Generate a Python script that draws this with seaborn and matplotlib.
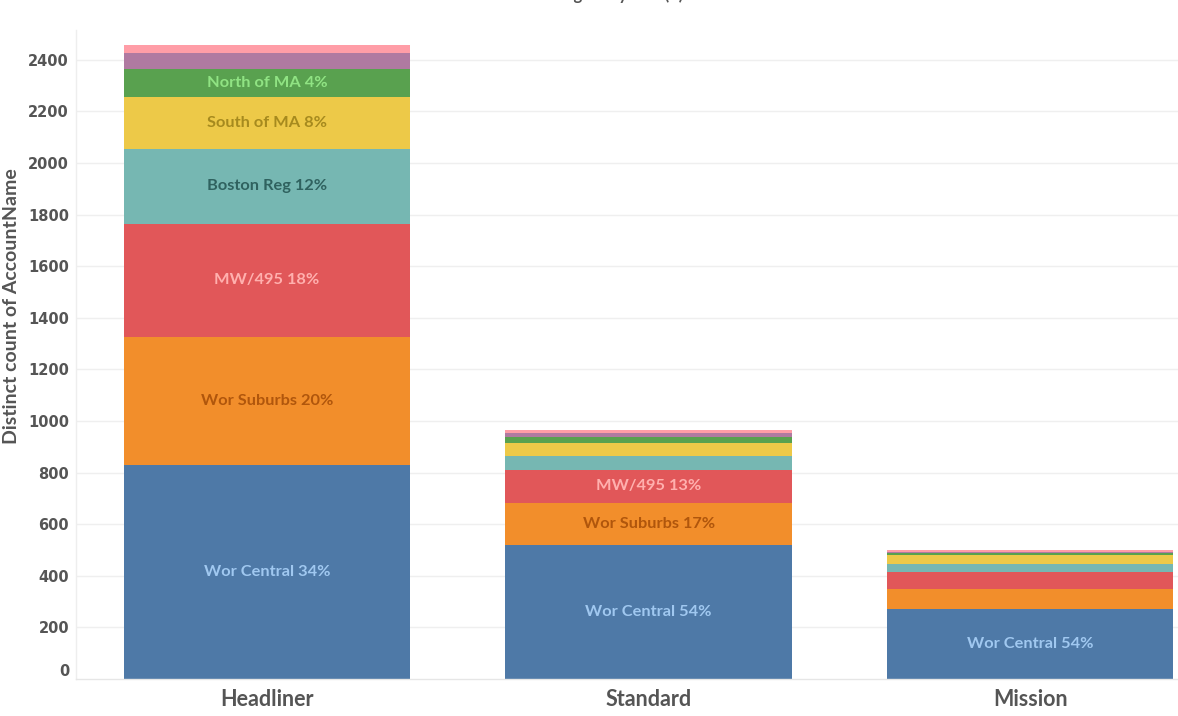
import numpy as np
import pandas as pd
import matplotlib
matplotlib.use("Agg")
import matplotlib.pyplot as plt
import seaborn as sns

tiers = ["Headliner", "Standard", "Mission"]
regions = ["Wor Central", "Wor Suburbs", "MW/495", "Boston Reg",
           "South of MA", "North of MA", "Western MA", "Out of State"]
headliner = [829, 497, 438, 290, 202, 108, 62, 31]
standard = [520, 163, 126, 55, 50, 25, 15, 11]
mission = [272, 78, 66, 31, 34, 8, 5, 7]
yticks = [0, 200, 400, 600, 800, 1000, 1200, 1400, 1600, 1800, 2000, 2200, 2400]

bar_colors = ["#4e79a7", "#f28e2b", "#e15759", "#76b7b2",
              "#edc948", "#59a14f", "#b07aa1", "#ff9da7"]
label_colors = ["#a0c8f0", "#b0560c", "#ffb0ae", "#2f625f",
                "#a68a1e", "#90e383", "#ffffff", "#ffffff"]

values = {"Headliner": headliner, "Standard": standard, "Mission": mission}
rows = []
for t in tiers:
    for r, v in zip(regions, values[t]):
        rows.append({"tier": t, "region": r, "count": v})
df = pd.DataFrame(rows)
df["tier"] = pd.Categorical(df["tier"], categories=tiers, ordered=True)

sns.set_theme(style="white")
plt.rcParams["font.family"] = ["DejaVu Sans"]

fig = plt.figure(figsize=(11.78, 7.16), dpi=100)
ax = fig.add_axes([76 / 1178, 37 / 716, (1178 - 76) / 1178, (679 - 30) / 716])

# gridlines behind the bars
for t in yticks[1:]:
    ax.axhline(t, color="#efefef", lw=1, zorder=0)

# stacked bars via seaborn
sns.histplot(data=df, x="tier", weights="count", hue="region",
             hue_order=regions[::-1], palette=dict(zip(regions, bar_colors)),
             multiple="stack", discrete=True, shrink=0.75, alpha=1,
             linewidth=0, legend=False, ax=ax, zorder=2)

# segment labels
for i, t in enumerate(tiers):
    vals = values[t]
    total = sum(vals)
    bottom = 0
    for r, v, lc in zip(regions, vals, label_colors):
        if v >= 90:
            ax.text(i, bottom + v / 2, f"{r} {round(100 * v / total)}%",
                    ha="center", va="center", color=lc, fontsize=11.8,
                    fontweight="bold", family="Lato", zorder=5)
        bottom += v

ax.set_xlim(-0.5, 2.387)
ax.set_ylim(0, 2515)
ax.set_yticks(yticks)
ax.set_yticklabels([str(v) for v in yticks])
ax.set_xticks(range(len(tiers)))
ax.set_xticklabels(tiers)
for lab in ax.get_yticklabels():
    lab.set_fontweight("bold")
    lab.set_fontsize(10.5)
    lab.set_color("#555555")
ax.get_yticklabels()[0].set_va("bottom")
for lab in ax.get_xticklabels():
    lab.set_family("Lato")
    lab.set_fontweight("bold")
    lab.set_fontsize(15.5)
    lab.set_color("#555555")
ax.tick_params(axis="y", length=0, pad=5)
ax.tick_params(axis="x", length=0, pad=7)

ax.set_xlabel("")
ax.set_ylabel("Distinct count of AccountName", family="Lato", fontweight="bold",
              fontsize=14, color="#555555")
ax.yaxis.set_label_coords(-0.051, 0.575)

for s in ["top", "right"]:
    ax.spines[s].set_visible(False)
ax.spines["left"].set_color("#eeeeee")
ax.spines["bottom"].set_color("#e6e6e6")
ax.spines["left"].set_linewidth(1)
ax.spines["bottom"].set_linewidth(1)

fig.text(0.525, 1.0, "Region by Tier (#)", ha="center", va="baseline",
         fontsize=12, fontweight="bold", color="#555555", family="Lato")

fig.savefig("out.png", dpi=100)
